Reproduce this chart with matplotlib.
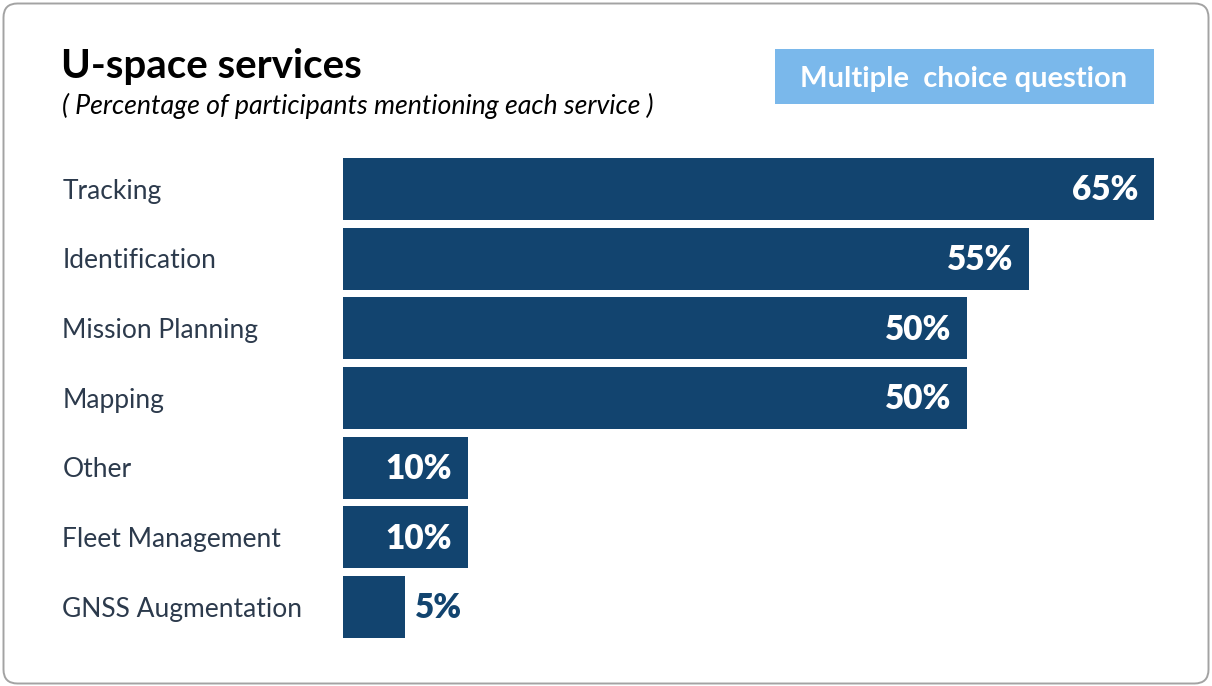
import numpy as np
import matplotlib.pyplot as plt
from matplotlib.patches import FancyBboxPatch, Rectangle

# survey results
services = ["Tracking", "Identification", "Mission Planning", "Mapping",
            "Other", "Fleet Management", "GNSS Augmentation"]
shares = [65, 55, 50, 50, 10, 10, 5]

title = "U-space services"
subtitle = "( Percentage of participants mentioning each service )"
badge = "Multiple  choice question"

BAR = "#12446f"
LABEL = "#2c3a4c"
BADGE = "#7ab8eb"
FONT = "Lato"

W, H = 1212, 686
fig = plt.figure(figsize=(W / 100, H / 100), dpi=100)
fig.patch.set_facecolor("white")

# background panel: rounded frame with a soft grey fade toward the bottom
bg = fig.add_axes([0, 0, 1, 1])
bg.set_xlim(0, W)
bg.set_ylim(H, 0)
bg.axis("off")
rows = np.linspace(0, 1, 256)
fade = np.clip((rows * H - 450) / (684 - 450), 0, 1)
shade = 1.0 - 0.09 * fade
img = np.dstack([shade, shade, shade])[:, :1, :].repeat(2, axis=1)
frame = FancyBboxPatch((3.5, 3.5), 1205, 680, boxstyle="round,pad=0,rounding_size=14",
                       facecolor="none", edgecolor="#a3a3a3", lw=1.4, zorder=3)
bg.add_patch(frame)
im = bg.imshow(img, extent=(0, W, H, 0), aspect="auto", interpolation="bilinear", zorder=1)
im.set_clip_path(frame)

bg.text(61, 78, title, fontsize=29, fontweight="bold", color="black",
        family=FONT, va="baseline", ha="left")
bg.text(62, 114, subtitle, fontsize=19.3, style="italic", color="black",
        family=FONT, va="baseline", ha="left")

bg.add_patch(Rectangle((775, 49), 379, 55, facecolor=BADGE, edgecolor="none", zorder=2))
bg.text(964, 79, badge, fontsize=21, fontweight="bold", color="white",
        family=FONT, ha="center", va="center", zorder=3)

# bar axes placed in pixel terms
top_px, bot_px = 154.2, 641.8
ax = fig.add_axes([343 / W, 1 - bot_px / H, 811 / W, (bot_px - top_px) / H])
ax.patch.set_alpha(0)
ax.set_xlim(0, 65)
ax.set_ylim(len(services) - 0.5, -0.5)
ax.axis("off")

ypos = np.arange(len(services))
ax.barh(ypos, shares, height=0.89, color=BAR, zorder=2)

for y, name, v in zip(ypos, services, shares):
    ax.annotate(name, (0, y), xytext=(-202, -1.5), textcoords="offset points",
                fontsize=19, color=LABEL, family=FONT, ha="left", va="center")
    if v >= 10:
        ax.annotate(f"{v}%", (v, y), xytext=(-11.5, -1), textcoords="offset points",
                    ha="right", va="center", fontsize=24, fontweight="heavy",
                    color="white", family=FONT)
    else:
        ax.annotate(f"{v}%", (v, y), xytext=(7, -1), textcoords="offset points",
                    ha="left", va="center", fontsize=24, fontweight="heavy",
                    color=BAR, family=FONT)

fig.savefig("out.png", dpi=100)
